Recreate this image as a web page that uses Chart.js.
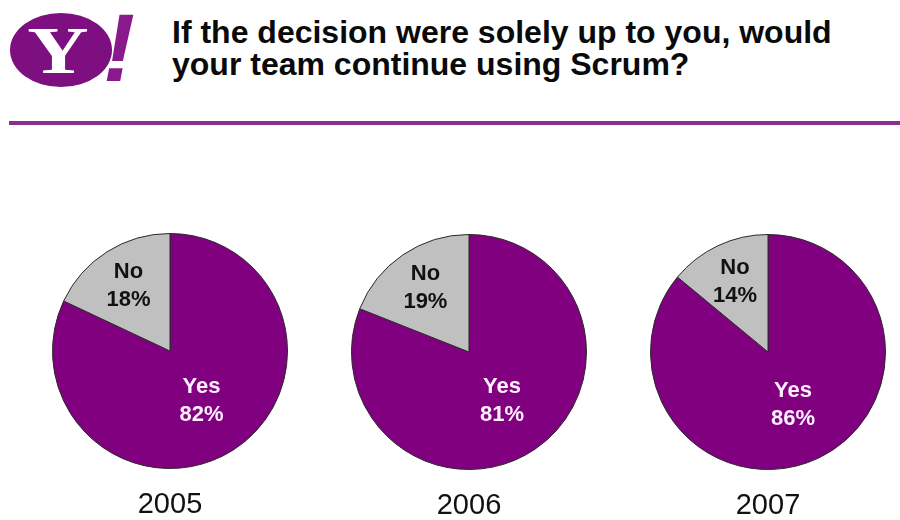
<!DOCTYPE html>
<html>
<head>
<meta charset="utf-8">
<script src="https://cdn.jsdelivr.net/npm/chart.js@4.4.1/dist/chart.umd.min.js"></script>
<style>
  html, body { margin: 0; padding: 0; background: #ffffff; }
  body { width: 900px; height: 520px; position: relative; overflow: hidden;
         font-family: "Liberation Sans", Arial, sans-serif; }
  #logo { position: absolute; left: 0; top: 0; }
  #title { position: absolute; left: 172px; top: 16px; font-size: 32px; line-height: 32px;
           font-weight: bold; color: #0a0a0a; white-space: nowrap; }
  #rule { position: absolute; left: 9px; top: 121px; width: 891px; height: 4px; background: #8b2f8d; }
  .pie { position: absolute; width: 236px; height: 300px; }
  .pie canvas { display: block; }
</style>
</head>
<body>
<svg id="logo" width="150" height="100" viewBox="0 0 150 100">
  <ellipse cx="61" cy="50" rx="51" ry="37" fill="#7d0f80"/>
  <text x="58" y="73" text-anchor="middle" font-family="'Liberation Serif', 'DejaVu Serif', serif"
        font-weight="bold" font-size="68" fill="#ffffff" transform="translate(58 0) scale(1.25 1) translate(-58 0)">Y</text>
  <text x="119" y="81" text-anchor="middle" font-family="'Liberation Sans', Arial, sans-serif"
        font-weight="bold" font-style="italic" font-size="96" fill="#8a1a8c">!</text>
</svg>
<div id="title">If the decision were solely up to you, would<br>your team continue using Scrum?</div>
<div id="rule"></div>

<div class="pie" style="left:52px; top:233px;"><canvas id="c0" width="236" height="300"></canvas></div>
<div class="pie" style="left:351px; top:234px;"><canvas id="c1" width="236" height="300"></canvas></div>
<div class="pie" style="left:650px; top:234px;"><canvas id="c2" width="236" height="300"></canvas></div>

<script>
// ---- data ----
const years = ["2005", "2006", "2007"];
const answers = ["Yes", "No"];
const yesValues = [82, 81, 86];
const noValues = [18, 19, 14];

// ---- styling ----
const sliceColors = ["#800080", "#c0c0c0"];
const labelColors = ["#fff0ff", "#111111"];
const labelRadius = [0.5, 0.66];

const sliceLabelPlugin = {
  id: "sliceLabels",
  afterDatasetsDraw(chart) {
    const ctx = chart.ctx;
    const meta = chart.getDatasetMeta(0);
    const data = chart.data.datasets[0].data;
    ctx.save();
    ctx.font = "bold 22px 'Liberation Sans', Arial, sans-serif";
    ctx.textAlign = "center";
    ctx.textBaseline = "middle";
    meta.data.forEach((arc, i) => {
      const p = arc.getProps(["x", "y", "startAngle", "endAngle", "outerRadius"], true);
      const mid = (p.startAngle + p.endAngle) / 2;
      const r = p.outerRadius * labelRadius[i];
      const x = p.x + Math.cos(mid) * r;
      const y = p.y + Math.sin(mid) * r;
      ctx.fillStyle = labelColors[i];
      ctx.fillText(chart.data.labels[i], x, y - 14);
      ctx.fillText(data[i] + "%", x, y + 14);
    });
    ctx.restore();
  }
};

years.forEach((yr, k) => {
  new Chart(document.getElementById("c" + k), {
    type: "pie",
    data: {
      labels: answers,
      datasets: [{
        data: [yesValues[k], noValues[k]],
        backgroundColor: sliceColors,
        borderColor: "#2a2a2a",
        borderWidth: 1
      }]
    },
    options: {
      responsive: false,
      animation: false,
      layout: { padding: 0 },
      plugins: {
        legend: { display: false },
        tooltip: { enabled: false },
        title: {
          display: true,
          position: "bottom",
          text: yr,
          color: "#111111",
          font: { family: "'Liberation Sans', Arial, sans-serif", size: 29, weight: "normal", lineHeight: 1.2 },
          padding: { top: 19, bottom: 10.2 }
        }
      }
    },
    plugins: [sliceLabelPlugin]
  });
});
</script>
</body>
</html>
